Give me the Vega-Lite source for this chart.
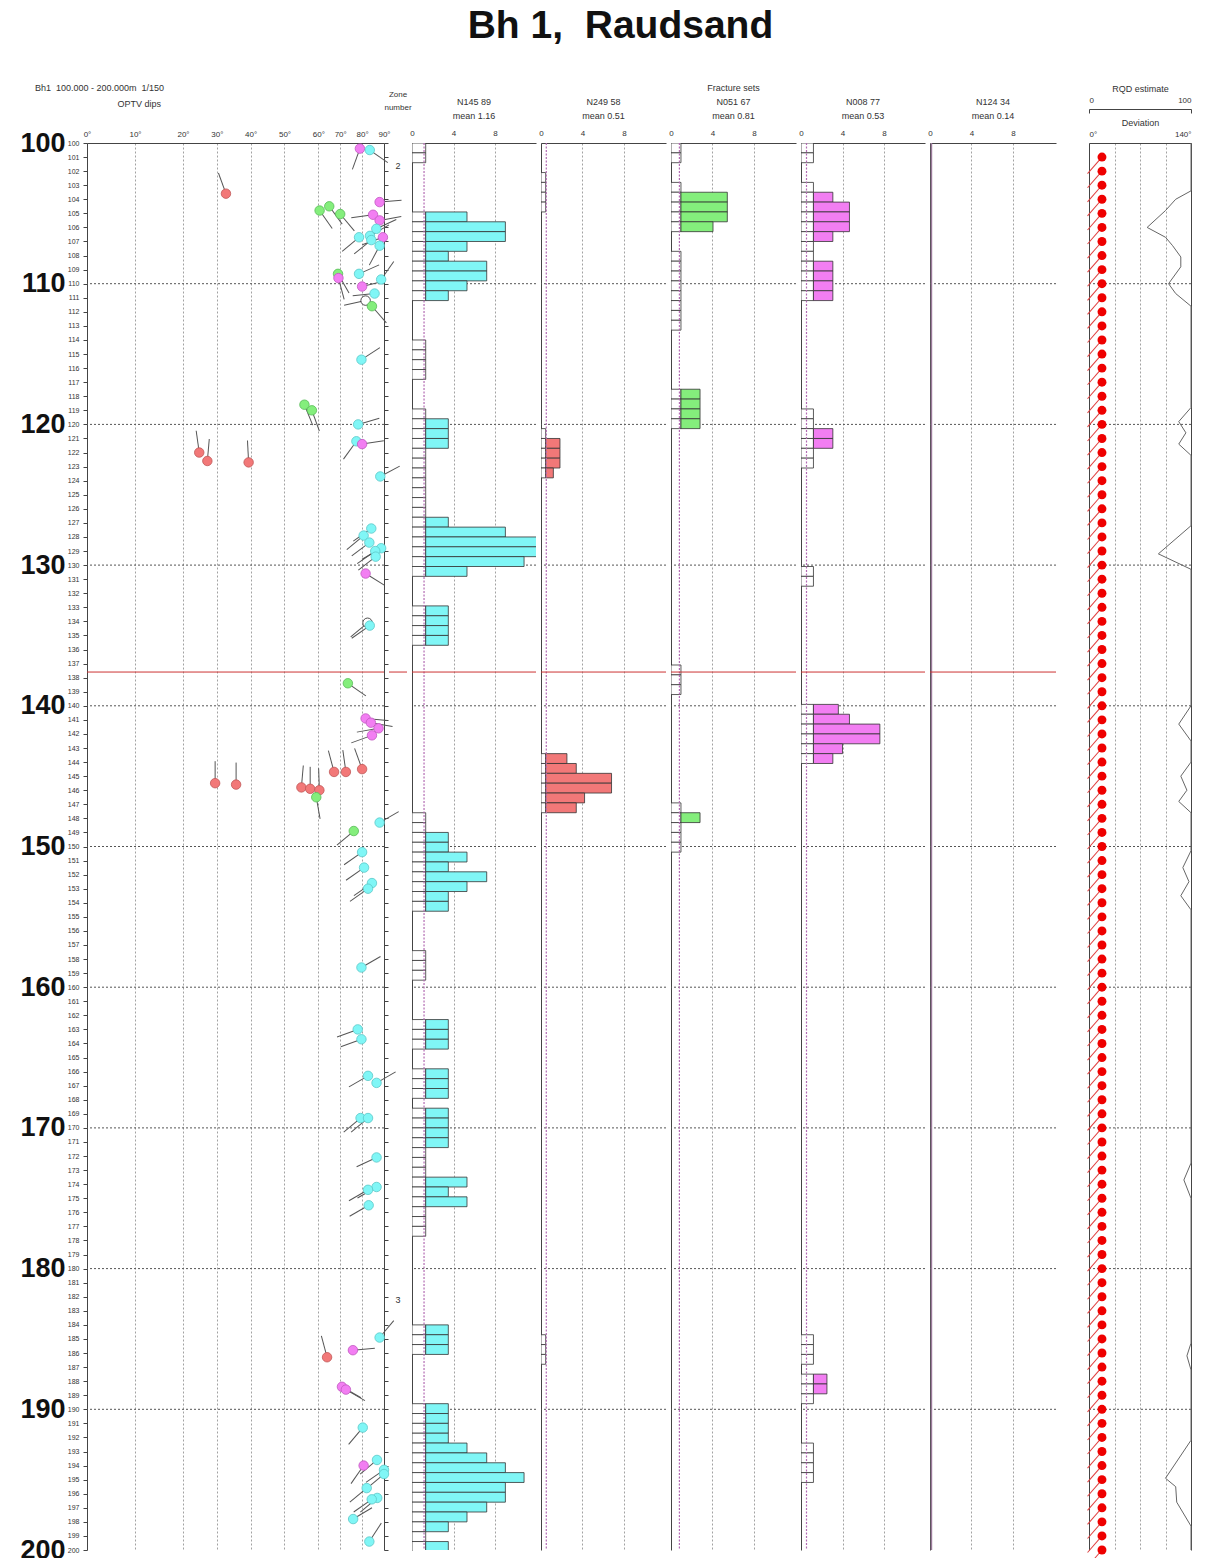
{
"$schema":"https://vega.github.io/schema/vega-lite/v6.json",
"background":"white",
"padding":{"left":19,"top":6,"right":5,"bottom":0},
"title":{"text":"Bh 1,\u00a0 Raudsand","fontSize":39,"font":"Liberation Sans, Arial, sans-serif","fontWeight":"bold","color":"#111","anchor":"middle","dx":14,"offset":38.5},
"spacing":5,
"bounds":"flush",
"datasets":{
"decades":[{"d":110},{"d":120},{"d":130},{"d":140},{"d":150},{"d":160},{"d":170},{"d":180},{"d":190}],
"marker":[{"d":137.6}],
"zones":[{"d":101.6,"z":"2"},{"d":182.2,"z":"3"}],
"means":[{"s":"N145","m":1.16},{"s":"N249","m":0.51},{"s":"N051","m":0.81},{"s":"N008","m":0.53},{"s":"N124","m":0.14}],
"dips":[
{"d":100.4,"dip":79,"az":200,"s":"N008"},{"d":100.5,"dip":83.5,"az":125,"s":"N145"},{"d":103.6,"dip":32.7,"az":340,"s":"N249"},
{"d":104.2,"dip":88,"az":85,"s":"N008"},{"d":104.5,"dip":65,"az":144,"s":"N051"},{"d":104.8,"dip":60.6,"az":145,"s":"N051"},
{"d":105.05,"dip":70,"az":140,"s":"N051"},{"d":105.1,"dip":85,"az":262,"s":"N008"},{"d":105.5,"dip":88,"az":80,"s":"N008"},
{"d":106.1,"dip":86.5,"az":65,"s":"N145"},{"d":106.6,"dip":83.6,"az":60,"s":"N145"},{"d":106.7,"dip":78.6,"az":230,"s":"N145"},
{"d":106.7,"dip":89.5,"az":250,"s":"N008"},{"d":106.9,"dip":84.2,"az":231,"s":"N145"},{"d":107.3,"dip":88,"az":208,"s":"N145"},
{"d":109.3,"dip":69,"az":150,"s":"N051"},{"d":109.3,"dip":78.6,"az":66,"s":"N145"},{"d":109.6,"dip":69.2,"az":165,"s":"N008"},
{"d":109.7,"dip":88.7,"az":35,"s":"N145"},{"d":110.2,"dip":80,"az":76,"s":"N008"},{"d":110.7,"dip":85.7,"az":264,"s":"N145"},
{"d":111.2,"dip":81.6,"az":258,"s":"X"},{"d":111.6,"dip":84.5,"az":139,"s":"N051"},{"d":115.4,"dip":79.7,"az":57,"s":"N145"},
{"d":118.6,"dip":55.9,"az":158,"s":"N051"},{"d":119.0,"dip":58.1,"az":160,"s":"N051"},{"d":120.0,"dip":78.2,"az":74,"s":"N145"},
{"d":121.2,"dip":77.4,"az":216,"s":"N145"},{"d":121.4,"dip":80,"az":81,"s":"N008"},{"d":122.0,"dip":24.8,"az":352,"s":"N249"},
{"d":122.6,"dip":27.2,"az":5,"s":"N249"},{"d":122.7,"dip":39.4,"az":357,"s":"N249"},{"d":123.7,"dip":88.3,"az":62,"s":"N145"},
{"d":127.4,"dip":84.2,"az":235,"s":"N145"},{"d":127.9,"dip":80.7,"az":230,"s":"N145"},{"d":128.4,"dip":83.3,"az":233,"s":"N145"},
{"d":128.8,"dip":88.7,"az":240,"s":"N145"},{"d":129.0,"dip":86.0,"az":235,"s":"N145"},{"d":129.4,"dip":86.2,"az":232,"s":"N145"},
{"d":130.6,"dip":81.6,"az":122,"s":"N008"},{"d":134.1,"dip":82.5,"az":230,"s":"X"},{"d":134.3,"dip":83.5,"az":235,"s":"N145"},
{"d":138.4,"dip":73.5,"az":125,"s":"N051"},{"d":140.9,"dip":81.6,"az":95,"s":"N008"},{"d":141.2,"dip":84,"az":100,"s":"N008"},
{"d":141.6,"dip":87.5,"az":260,"s":"N008"},{"d":142.1,"dip":84.5,"az":250,"s":"N008"},{"d":144.5,"dip":80,"az":340,"s":"N249"},
{"d":144.7,"dip":67.2,"az":345,"s":"N249"},{"d":144.7,"dip":72.6,"az":352,"s":"N249"},{"d":145.5,"dip":29.5,"az":0,"s":"N249"},
{"d":145.6,"dip":35.7,"az":0,"s":"N249"},{"d":145.8,"dip":55,"az":5,"s":"N249"},{"d":145.9,"dip":57.6,"az":0,"s":"N249"},
{"d":146.0,"dip":60.5,"az":358,"s":"N249"},{"d":146.5,"dip":59.4,"az":170,"s":"N051"},{"d":148.3,"dip":88,"az":60,"s":"N145"},
{"d":148.9,"dip":76.2,"az":230,"s":"N051"},{"d":150.4,"dip":80,"az":235,"s":"N145"},{"d":151.5,"dip":80.9,"az":235,"s":"N145"},
{"d":152.6,"dip":84.5,"az":235,"s":"N145"},{"d":153.0,"dip":82.7,"az":235,"s":"N145"},{"d":158.6,"dip":79.7,"az":60,"s":"N145"},
{"d":163.0,"dip":78,"az":250,"s":"N145"},{"d":163.7,"dip":79.7,"az":250,"s":"N145"},{"d":166.3,"dip":82.7,"az":240,"s":"N145"},
{"d":166.8,"dip":86.6,"az":60,"s":"N145"},{"d":169.3,"dip":79.3,"az":230,"s":"N145"},{"d":169.3,"dip":82.7,"az":230,"s":"N145"},
{"d":172.1,"dip":86.6,"az":245,"s":"N145"},{"d":174.2,"dip":86.6,"az":240,"s":"N145"},{"d":174.4,"dip":82.7,"az":240,"s":"N145"},
{"d":175.5,"dip":83,"az":240,"s":"N145"},{"d":184.9,"dip":88,"az":40,"s":"N145"},{"d":185.8,"dip":75.8,"az":85,"s":"N008"},
{"d":186.3,"dip":64,"az":345,"s":"N249"},{"d":188.4,"dip":70.8,"az":120,"s":"N008"},{"d":188.6,"dip":72.6,"az":120,"s":"N008"},
{"d":191.3,"dip":80.3,"az":220,"s":"N145"},{"d":193.6,"dip":86.8,"az":230,"s":"N145"},{"d":194.0,"dip":80.7,"az":215,"s":"N008"},
{"d":194.3,"dip":90,"az":235,"s":"N145"},{"d":194.6,"dip":90,"az":230,"s":"N145"},{"d":195.6,"dip":82.1,"az":230,"s":"N145"},
{"d":196.3,"dip":86.9,"az":230,"s":"N145"},{"d":196.4,"dip":84.4,"az":235,"s":"N145"},{"d":197.8,"dip":75.9,"az":59,"s":"N145"},
{"d":199.4,"dip":83.3,"az":33,"s":"N145"}
],
"hist":[
{"s":"N145","top":100.0,"bot":100.7,"b":1.32,"n":null},{"s":"N145","top":100.7,"bot":101.4,"b":1.32,"n":null},
{"s":"N145","top":104.9,"bot":105.6,"b":1.32,"n":5.3},{"s":"N145","top":105.6,"bot":106.3,"b":1.32,"n":9.0},
{"s":"N145","top":106.3,"bot":107.0,"b":1.32,"n":9.0},{"s":"N145","top":107.0,"bot":107.7,"b":1.32,"n":5.3},
{"s":"N145","top":107.7,"bot":108.4,"b":1.32,"n":3.5},{"s":"N145","top":108.4,"bot":109.1,"b":1.32,"n":7.2},
{"s":"N145","top":109.1,"bot":109.8,"b":1.32,"n":7.2},{"s":"N145","top":109.8,"bot":110.5,"b":1.32,"n":5.3},
{"s":"N145","top":110.5,"bot":111.2,"b":1.32,"n":3.5},
{"s":"N145","top":114.0,"bot":114.7,"b":1.32,"n":null},{"s":"N145","top":114.7,"bot":115.4,"b":1.32,"n":null},
{"s":"N145","top":115.4,"bot":116.1,"b":1.32,"n":null},{"s":"N145","top":116.1,"bot":116.8,"b":1.32,"n":null},
{"s":"N145","top":118.9,"bot":119.6,"b":1.32,"n":null},{"s":"N145","top":119.6,"bot":120.3,"b":1.32,"n":3.5},
{"s":"N145","top":120.3,"bot":121.0,"b":1.32,"n":3.5},{"s":"N145","top":121.0,"bot":121.7,"b":1.32,"n":3.5},
{"s":"N145","top":121.7,"bot":122.4,"b":1.32,"n":null},{"s":"N145","top":122.4,"bot":123.1,"b":1.32,"n":null},
{"s":"N145","top":123.1,"bot":123.8,"b":1.32,"n":null},{"s":"N145","top":123.8,"bot":124.5,"b":1.32,"n":null},
{"s":"N145","top":124.5,"bot":125.2,"b":1.32,"n":null},{"s":"N145","top":125.2,"bot":125.9,"b":1.32,"n":null},
{"s":"N145","top":125.9,"bot":126.6,"b":1.32,"n":null},{"s":"N145","top":126.6,"bot":127.3,"b":1.32,"n":3.5},
{"s":"N145","top":127.3,"bot":128.0,"b":1.32,"n":9.0},{"s":"N145","top":128.0,"bot":128.7,"b":1.32,"n":12.6},
{"s":"N145","top":128.7,"bot":129.4,"b":1.32,"n":12.6},{"s":"N145","top":129.4,"bot":130.1,"b":1.32,"n":10.8},
{"s":"N145","top":130.1,"bot":130.8,"b":1.32,"n":5.3},
{"s":"N145","top":132.9,"bot":133.6,"b":1.32,"n":3.5},{"s":"N145","top":133.6,"bot":134.3,"b":1.32,"n":3.5},
{"s":"N145","top":134.3,"bot":135.0,"b":1.32,"n":3.5},{"s":"N145","top":135.0,"bot":135.7,"b":1.32,"n":3.5},
{"s":"N145","top":147.6,"bot":148.3,"b":1.32,"n":null},{"s":"N145","top":148.3,"bot":149.0,"b":1.32,"n":null},
{"s":"N145","top":149.0,"bot":149.7,"b":1.32,"n":3.5},{"s":"N145","top":149.7,"bot":150.4,"b":1.32,"n":3.5},
{"s":"N145","top":150.4,"bot":151.1,"b":1.32,"n":5.3},{"s":"N145","top":151.1,"bot":151.8,"b":1.32,"n":3.5},
{"s":"N145","top":151.8,"bot":152.5,"b":1.32,"n":7.2},{"s":"N145","top":152.5,"bot":153.2,"b":1.32,"n":5.3},
{"s":"N145","top":153.2,"bot":153.9,"b":1.32,"n":3.5},{"s":"N145","top":153.9,"bot":154.6,"b":1.32,"n":3.5},
{"s":"N145","top":157.4,"bot":158.1,"b":1.32,"n":null},{"s":"N145","top":158.1,"bot":158.8,"b":1.32,"n":null},
{"s":"N145","top":158.8,"bot":159.5,"b":1.32,"n":null},
{"s":"N145","top":162.3,"bot":163.0,"b":1.32,"n":3.5},{"s":"N145","top":163.0,"bot":163.7,"b":1.32,"n":3.5},
{"s":"N145","top":163.7,"bot":164.4,"b":1.32,"n":3.5},
{"s":"N145","top":165.8,"bot":166.5,"b":1.32,"n":3.5},{"s":"N145","top":166.5,"bot":167.2,"b":1.32,"n":3.5},
{"s":"N145","top":167.2,"bot":167.9,"b":1.32,"n":3.5},
{"s":"N145","top":168.6,"bot":169.3,"b":1.32,"n":3.5},{"s":"N145","top":169.3,"bot":170.0,"b":1.32,"n":3.5},
{"s":"N145","top":170.0,"bot":170.7,"b":1.32,"n":3.5},{"s":"N145","top":170.7,"bot":171.4,"b":1.32,"n":3.5},
{"s":"N145","top":171.4,"bot":172.1,"b":1.32,"n":null},{"s":"N145","top":172.1,"bot":172.8,"b":1.32,"n":null},
{"s":"N145","top":172.8,"bot":173.5,"b":1.32,"n":null},{"s":"N145","top":173.5,"bot":174.2,"b":1.32,"n":5.3},
{"s":"N145","top":174.2,"bot":174.9,"b":1.32,"n":3.5},{"s":"N145","top":174.9,"bot":175.6,"b":1.32,"n":5.3},
{"s":"N145","top":175.6,"bot":176.3,"b":1.32,"n":null},{"s":"N145","top":176.3,"bot":177.0,"b":1.32,"n":null},
{"s":"N145","top":177.0,"bot":177.7,"b":1.32,"n":null},
{"s":"N145","top":184.0,"bot":184.7,"b":1.32,"n":3.5},{"s":"N145","top":184.7,"bot":185.4,"b":1.32,"n":3.5},
{"s":"N145","top":185.4,"bot":186.1,"b":1.32,"n":3.5},
{"s":"N145","top":189.6,"bot":190.3,"b":1.32,"n":3.5},{"s":"N145","top":190.3,"bot":191.0,"b":1.32,"n":3.5},
{"s":"N145","top":191.0,"bot":191.7,"b":1.32,"n":3.5},{"s":"N145","top":191.7,"bot":192.4,"b":1.32,"n":3.5},
{"s":"N145","top":192.4,"bot":193.1,"b":1.32,"n":5.3},{"s":"N145","top":193.1,"bot":193.8,"b":1.32,"n":7.2},
{"s":"N145","top":193.8,"bot":194.5,"b":1.32,"n":9.0},{"s":"N145","top":194.5,"bot":195.2,"b":1.32,"n":10.8},
{"s":"N145","top":195.2,"bot":195.9,"b":1.32,"n":9.0},{"s":"N145","top":195.9,"bot":196.6,"b":1.32,"n":9.0},
{"s":"N145","top":196.6,"bot":197.3,"b":1.32,"n":7.2},{"s":"N145","top":197.3,"bot":198.0,"b":1.32,"n":5.3},
{"s":"N145","top":198.0,"bot":198.7,"b":1.32,"n":3.5},{"s":"N145","top":198.7,"bot":199.4,"b":1.32,"n":null},
{"s":"N145","top":199.4,"bot":200.1,"b":1.32,"n":3.5},
{"s":"N249","top":102.1,"bot":102.8,"b":0.45,"n":null},{"s":"N249","top":102.8,"bot":103.5,"b":0.45,"n":null},
{"s":"N249","top":103.5,"bot":104.2,"b":0.45,"n":null},{"s":"N249","top":104.2,"bot":104.9,"b":0.45,"n":null},
{"s":"N249","top":120.3,"bot":121.0,"b":0.45,"n":null},{"s":"N249","top":121.0,"bot":121.7,"b":0.45,"n":1.83},
{"s":"N249","top":121.7,"bot":122.4,"b":0.45,"n":1.83},{"s":"N249","top":122.4,"bot":123.1,"b":0.45,"n":1.83},
{"s":"N249","top":123.1,"bot":123.8,"b":0.45,"n":1.19},
{"s":"N249","top":143.4,"bot":144.1,"b":0.45,"n":2.5},{"s":"N249","top":144.1,"bot":144.8,"b":0.45,"n":3.4},
{"s":"N249","top":144.8,"bot":145.5,"b":0.45,"n":6.8},{"s":"N249","top":145.5,"bot":146.2,"b":0.45,"n":6.8},
{"s":"N249","top":146.2,"bot":146.9,"b":0.45,"n":4.2},{"s":"N249","top":146.9,"bot":147.6,"b":0.45,"n":3.4},
{"s":"N249","top":184.7,"bot":185.4,"b":0.45,"n":null},{"s":"N249","top":185.4,"bot":186.1,"b":0.45,"n":null},
{"s":"N249","top":186.1,"bot":186.8,"b":0.45,"n":null},
{"s":"N051","top":100.0,"bot":100.7,"b":0.96,"n":null},{"s":"N051","top":100.7,"bot":101.4,"b":0.96,"n":null},
{"s":"N051","top":102.8,"bot":103.5,"b":0.96,"n":null},{"s":"N051","top":103.5,"bot":104.2,"b":0.96,"n":5.43},
{"s":"N051","top":104.2,"bot":104.9,"b":0.96,"n":5.43},{"s":"N051","top":104.9,"bot":105.6,"b":0.96,"n":5.43},
{"s":"N051","top":105.6,"bot":106.3,"b":0.96,"n":4.05},
{"s":"N051","top":107.7,"bot":108.4,"b":0.96,"n":null},{"s":"N051","top":108.4,"bot":109.1,"b":0.96,"n":null},
{"s":"N051","top":109.1,"bot":109.8,"b":0.96,"n":null},{"s":"N051","top":109.8,"bot":110.5,"b":0.96,"n":null},
{"s":"N051","top":110.5,"bot":111.2,"b":0.96,"n":null},{"s":"N051","top":111.2,"bot":111.9,"b":0.96,"n":null},
{"s":"N051","top":111.9,"bot":112.6,"b":0.96,"n":null},{"s":"N051","top":112.6,"bot":113.3,"b":0.96,"n":null},
{"s":"N051","top":117.5,"bot":118.2,"b":0.96,"n":2.8},{"s":"N051","top":118.2,"bot":118.9,"b":0.96,"n":2.8},
{"s":"N051","top":118.9,"bot":119.6,"b":0.96,"n":2.8},{"s":"N051","top":119.6,"bot":120.3,"b":0.96,"n":2.8},
{"s":"N051","top":137.1,"bot":137.8,"b":0.96,"n":null},{"s":"N051","top":137.8,"bot":138.5,"b":0.96,"n":null},
{"s":"N051","top":138.5,"bot":139.2,"b":0.96,"n":null},
{"s":"N051","top":146.9,"bot":147.6,"b":0.96,"n":null},{"s":"N051","top":147.6,"bot":148.3,"b":0.96,"n":2.8},
{"s":"N051","top":148.3,"bot":149.0,"b":0.96,"n":null},{"s":"N051","top":149.0,"bot":149.7,"b":0.96,"n":null},
{"s":"N051","top":149.7,"bot":150.4,"b":0.96,"n":null},
{"s":"N008","top":100.0,"bot":100.7,"b":1.2,"n":null},{"s":"N008","top":100.7,"bot":101.4,"b":1.2,"n":null},
{"s":"N008","top":102.8,"bot":103.5,"b":1.2,"n":null},{"s":"N008","top":103.5,"bot":104.2,"b":1.2,"n":3.07},
{"s":"N008","top":104.2,"bot":104.9,"b":1.2,"n":4.67},{"s":"N008","top":104.9,"bot":105.6,"b":1.2,"n":4.67},
{"s":"N008","top":105.6,"bot":106.3,"b":1.2,"n":4.67},{"s":"N008","top":106.3,"bot":107.0,"b":1.2,"n":3.07},
{"s":"N008","top":107.0,"bot":107.7,"b":1.2,"n":null},{"s":"N008","top":107.7,"bot":108.4,"b":1.2,"n":null},
{"s":"N008","top":108.4,"bot":109.1,"b":1.2,"n":3.07},{"s":"N008","top":109.1,"bot":109.8,"b":1.2,"n":3.07},
{"s":"N008","top":109.8,"bot":110.5,"b":1.2,"n":3.07},{"s":"N008","top":110.5,"bot":111.2,"b":1.2,"n":3.07},
{"s":"N008","top":118.9,"bot":119.6,"b":1.2,"n":null},{"s":"N008","top":119.6,"bot":120.3,"b":1.2,"n":null},
{"s":"N008","top":120.3,"bot":121.0,"b":1.2,"n":3.07},{"s":"N008","top":121.0,"bot":121.7,"b":1.2,"n":3.07},
{"s":"N008","top":121.7,"bot":122.4,"b":1.2,"n":null},{"s":"N008","top":122.4,"bot":123.1,"b":1.2,"n":null},
{"s":"N008","top":130.1,"bot":130.8,"b":1.2,"n":null},{"s":"N008","top":130.8,"bot":131.5,"b":1.2,"n":null},
{"s":"N008","top":139.9,"bot":140.6,"b":1.2,"n":3.6},{"s":"N008","top":140.6,"bot":141.3,"b":1.2,"n":4.67},
{"s":"N008","top":141.3,"bot":142.0,"b":1.2,"n":7.6},{"s":"N008","top":142.0,"bot":142.7,"b":1.2,"n":7.6},
{"s":"N008","top":142.7,"bot":143.4,"b":1.2,"n":4.0},{"s":"N008","top":143.4,"bot":144.1,"b":1.2,"n":3.07},
{"s":"N008","top":184.7,"bot":185.4,"b":1.2,"n":null},{"s":"N008","top":185.4,"bot":186.1,"b":1.2,"n":null},
{"s":"N008","top":186.1,"bot":186.8,"b":1.2,"n":null},
{"s":"N008","top":187.5,"bot":188.2,"b":1.2,"n":2.5},{"s":"N008","top":188.2,"bot":188.9,"b":1.2,"n":2.5},
{"s":"N008","top":188.9,"bot":189.6,"b":1.2,"n":null},
{"s":"N008","top":192.4,"bot":193.1,"b":1.2,"n":null},{"s":"N008","top":193.1,"bot":193.8,"b":1.2,"n":null},
{"s":"N008","top":193.8,"bot":194.5,"b":1.2,"n":null},{"s":"N008","top":194.5,"bot":195.2,"b":1.2,"n":null}
],
"rqd":[
{"d":100,"r":100},{"d":103.4,"r":100},{"d":104.0,"r":85},{"d":104.8,"r":75},{"d":106.0,"r":57},{"d":106.7,"r":75},{"d":107.3,"r":82},{"d":108.1,"r":90},{"d":108.8,"r":90},{"d":110,"r":78},{"d":110.7,"r":85},{"d":111.6,"r":100},
{"d":118.8,"r":100},{"d":119.8,"r":88},{"d":120.6,"r":95},{"d":121.4,"r":88},{"d":122.2,"r":100},
{"d":127.2,"r":100},{"d":129.2,"r":68},{"d":130.3,"r":100},
{"d":140,"r":100},{"d":141.3,"r":88},{"d":142.5,"r":100},{"d":144,"r":100},{"d":145,"r":90},{"d":146,"r":96},{"d":146.8,"r":88},{"d":147.6,"r":100},
{"d":150.3,"r":100},{"d":151.5,"r":92},{"d":152.5,"r":98},{"d":153.5,"r":90},{"d":154.5,"r":100},
{"d":172.5,"r":100},{"d":173.7,"r":93},{"d":175,"r":100},{"d":185.3,"r":100},{"d":186.2,"r":96},{"d":187.2,"r":100},
{"d":192.2,"r":100},{"d":194.9,"r":75},{"d":195.5,"r":85},{"d":196.6,"r":86},{"d":198.3,"r":100},{"d":200,"r":100}
],
"dev":[
{"d":101,"v":17.8,"az":221},{"d":102,"v":17.8,"az":221},{"d":103,"v":17.8,"az":221},{"d":104,"v":17.8,"az":221},{"d":105,"v":17.8,"az":221},
{"d":106,"v":17.8,"az":221},{"d":107,"v":17.8,"az":221},{"d":108,"v":17.8,"az":221},{"d":109,"v":17.8,"az":221},{"d":110,"v":17.8,"az":221},
{"d":111,"v":17.8,"az":221},{"d":112,"v":17.8,"az":221},{"d":113,"v":17.8,"az":221},{"d":114,"v":17.8,"az":221},{"d":115,"v":17.8,"az":221},
{"d":116,"v":17.8,"az":221},{"d":117,"v":17.8,"az":221},{"d":118,"v":17.8,"az":221},{"d":119,"v":17.8,"az":221},{"d":120,"v":17.8,"az":221},
{"d":121,"v":17.8,"az":221},{"d":122,"v":17.8,"az":221},{"d":123,"v":17.8,"az":221},{"d":124,"v":17.8,"az":221},{"d":125,"v":17.8,"az":221},
{"d":126,"v":17.8,"az":221},{"d":127,"v":17.8,"az":221},{"d":128,"v":17.8,"az":221},{"d":129,"v":17.8,"az":221},{"d":130,"v":17.8,"az":221},
{"d":131,"v":17.8,"az":221},{"d":132,"v":17.8,"az":221},{"d":133,"v":17.8,"az":221},{"d":134,"v":17.8,"az":221},{"d":135,"v":17.8,"az":221},
{"d":136,"v":17.8,"az":221},{"d":137,"v":17.8,"az":221},{"d":138,"v":17.8,"az":221},{"d":139,"v":17.8,"az":221},{"d":140,"v":17.8,"az":221},
{"d":141,"v":17.8,"az":221},{"d":142,"v":17.8,"az":221},{"d":143,"v":17.8,"az":221},{"d":144,"v":17.8,"az":221},{"d":145,"v":17.8,"az":221},
{"d":146,"v":17.8,"az":221},{"d":147,"v":17.8,"az":221},{"d":148,"v":17.8,"az":221},{"d":149,"v":17.8,"az":221},{"d":150,"v":17.8,"az":221},
{"d":151,"v":17.8,"az":221},{"d":152,"v":17.8,"az":221},{"d":153,"v":17.8,"az":221},{"d":154,"v":17.8,"az":221},{"d":155,"v":17.8,"az":221},
{"d":156,"v":17.8,"az":221},{"d":157,"v":17.8,"az":221},{"d":158,"v":17.8,"az":221},{"d":159,"v":17.8,"az":221},{"d":160,"v":17.8,"az":221},
{"d":161,"v":17.8,"az":221},{"d":162,"v":17.8,"az":221},{"d":163,"v":17.8,"az":221},{"d":164,"v":17.8,"az":221},{"d":165,"v":17.8,"az":221},
{"d":166,"v":17.8,"az":221},{"d":167,"v":17.8,"az":221},{"d":168,"v":17.8,"az":221},{"d":169,"v":17.8,"az":221},{"d":170,"v":17.8,"az":221},
{"d":171,"v":17.8,"az":221},{"d":172,"v":17.8,"az":221},{"d":173,"v":17.8,"az":221},{"d":174,"v":17.8,"az":221},{"d":175,"v":17.8,"az":221},
{"d":176,"v":17.8,"az":221},{"d":177,"v":17.8,"az":221},{"d":178,"v":17.8,"az":221},{"d":179,"v":17.8,"az":221},{"d":180,"v":17.8,"az":221},
{"d":181,"v":17.8,"az":221},{"d":182,"v":17.8,"az":221},{"d":183,"v":17.8,"az":221},{"d":184,"v":17.8,"az":221},{"d":185,"v":17.8,"az":221},
{"d":186,"v":17.8,"az":221},{"d":187,"v":17.8,"az":221},{"d":188,"v":17.8,"az":221},{"d":189,"v":17.8,"az":221},{"d":190,"v":17.8,"az":221},
{"d":191,"v":17.8,"az":221},{"d":192,"v":17.8,"az":221},{"d":193,"v":17.8,"az":221},{"d":194,"v":17.8,"az":221},{"d":195,"v":17.8,"az":221},
{"d":196,"v":17.8,"az":221},{"d":197,"v":17.8,"az":221},{"d":198,"v":17.8,"az":221},{"d":199,"v":17.8,"az":221},{"d":200,"v":17.8,"az":221}
]
},
"hconcat":[
{
"width":297,"height":1407,
"title":{"text":"Bh1\u00a0\u00a0100.000 - 200.000m\u00a0\u00a01/150","anchor":"start","frame":"group","dx":-52,"offset":6,"fontSize":9},
"layer":[
{"data":{"name":"decades"},"mark":{"type":"rule","color":"#555","strokeDash":[2,2]},
 "encoding":{"y":{"field":"d","type":"quantitative","scale":{"domain":[100,200],"reverse":true,"nice":false,"zero":false},
  "axis":{"orient":"right","values":[100,101,102,103,104,105,106,107,108,109,110,111,112,113,114,115,116,117,118,119,120,121,122,123,124,125,126,127,128,129,130,131,132,133,134,135,136,137,138,139,140,141,142,143,144,145,146,147,148,149,150,151,152,153,154,155,156,157,158,159,160,161,162,163,164,165,166,167,168,169,170,171,172,173,174,175,176,177,178,179,180,181,182,183,184,185,186,187,188,189,190,191,192,193,194,195,196,197,198,199,200],"labels":false,"tickSize":4,"domain":true,"title":null,"grid":false}}}},
{"data":{"name":"marker"},"mark":{"type":"rule","color":"#cc3333","strokeWidth":1},
 "encoding":{"y":{"field":"d","type":"quantitative","scale":{"domain":[100,200],"reverse":true,"nice":false,"zero":false},"axis":null}}},
{"data":{"name":"dips"},"mark":{"type":"point","shape":"M0,0L0,-2","filled":false,"stroke":"#555","strokeWidth":1,"size":484,"opacity":1},
 "encoding":{
  "x":{"field":"dip","type":"quantitative","scale":{"domain":[0,20,60,90],"range":[0,96,231.3,297],"nice":false,"zero":false},
   "axis":{"orient":"top","values":[0,10,20,30,40,50,60,70,80,90],"labelExpr":"datum.value + '°'","grid":true,"ticks":false,"domain":true,"labelPadding":5,"labelFlush":false,"labelOverlap":false,"title":"OPTV dips","titleAnchor":"start","titleAlign":"left","titleX":30,"titleY":-40,"titleBaseline":"middle"}},
  "y":{"field":"d","type":"quantitative","scale":{"domain":[100,200],"reverse":true,"nice":false,"zero":false},
   "axis":{"orient":"left","values":[100,101,102,103,104,105,106,107,108,109,110,111,112,113,114,115,116,117,118,119,120,121,122,123,124,125,126,127,128,129,130,131,132,133,134,135,136,137,138,139,140,141,142,143,144,145,146,147,148,149,150,151,152,153,154,155,156,157,158,159,160,161,162,163,164,165,166,167,168,169,170,171,172,173,174,175,176,177,178,179,180,181,182,183,184,185,186,187,188,189,190,191,192,193,194,195,196,197,198,199,200],"labelFontSize":7,"tickSize":4,"labelPadding":4,"labelOverlap":false,"domain":true,"title":null,"grid":false}},
  "angle":{"field":"az","type":"quantitative","scale":null}}},
{"data":{"name":"dips"},"mark":{"type":"point","shape":"circle","filled":true,"size":90,"opacity":1,"strokeWidth":0.8},
 "encoding":{
  "x":{"field":"dip","type":"quantitative","scale":{"domain":[0,20,60,90],"range":[0,96,231.3,297],"nice":false,"zero":false},"axis":null},
  "y":{"field":"d","type":"quantitative","scale":{"domain":[100,200],"reverse":true,"nice":false,"zero":false},
   "axis":{"orient":"left","values":[100,110,120,130,140,150,160,170,180,190,200],"labelFontSize":27,"labelFont":"Liberation Sans, Arial, sans-serif","labelFontWeight":"bold","labelColor":"#111","ticks":false,"domain":false,"labelPadding":22,"labelOverlap":false,"title":null,"grid":false}},
  "color":{"field":"s","type":"nominal","scale":{"domain":["N145","N249","N051","N008","X"],"range":["#80f6f6","#f27878","#84ee7c","#f27ef2","#ffffff"]},"legend":null},
  "stroke":{"field":"s","type":"nominal","scale":{"domain":["N145","N249","N051","N008","X"],"range":["#5cc8c8","#c05858","#58bb58","#c058c0","#222222"]},"legend":null}}}
],
"resolve":{"axis":{"x":"independent","y":"independent"}}
},
{
"width":18,"height":1407,
"title":{"text":["Zone","number"],"offset":31,"lineHeight":13,"fontSize":8},
"layer":[
{"data":{"name":"marker"},"mark":{"type":"rule","color":"#cc3333"},
 "encoding":{"y":{"field":"d","type":"quantitative","scale":{"domain":[100,200],"reverse":true,"nice":false,"zero":false},"axis":null}}},
{"data":{"name":"zones"},"mark":{"type":"text","fontSize":9,"font":"Liberation Sans Narrow, Arial Narrow, Liberation Sans, sans-serif","color":"#333"},
 "encoding":{"y":{"field":"d","type":"quantitative","scale":{"domain":[100,200],"reverse":true,"nice":false,"zero":false},"axis":null},"text":{"field":"z"}}}
]
},
{
"width":124,"height":1407,
"title":{"text":["N145 89","mean 1.16"],"offset":8,"lineHeight":14,"fontSize":9},
"layer":[
{"data":{"name":"decades"},"mark":{"type":"rule","color":"#555","strokeDash":[2,2]},
 "encoding":{"y":{"field":"d","type":"quantitative","scale":{"domain":[100,200],"reverse":true,"nice":false,"zero":false},"axis":{"orient":"left","labels":false,"ticks":false,"domain":true,"title":null,"grid":false}}}},
{"data":{"name":"hist"},"transform":[{"filter":"datum.s == 'N145'"}],"mark":{"type":"rect","fill":"#ffffff","stroke":"#333","strokeWidth":0.8,"clip":true},
 "encoding":{"x":{"field":"b","type":"quantitative","scale":{"domain":[0,11.95],"nice":false,"zero":false},"axis":{"orient":"top","values":[0,4,8],"grid":true,"ticks":false,"domain":true,"labelPadding":6,"labelFlush":false,"title":null}},
  "x2":{"datum":0},"y":{"field":"top","type":"quantitative","scale":{"domain":[100,200],"reverse":true,"nice":false,"zero":false},"axis":null},"y2":{"field":"bot"}}},
{"data":{"name":"hist"},"transform":[{"filter":"datum.s == 'N145' && datum.n != null"}],"mark":{"type":"rect","fill":"#80f6f6","stroke":"#333","strokeWidth":0.8,"clip":true},
 "encoding":{"x":{"field":"b","type":"quantitative","scale":{"domain":[0,11.95],"nice":false,"zero":false},"axis":null},"x2":{"field":"n"},
  "y":{"field":"top","type":"quantitative","scale":{"domain":[100,200],"reverse":true,"nice":false,"zero":false},"axis":null},"y2":{"field":"bot"}}},
{"data":{"name":"means"},"transform":[{"filter":"datum.s == 'N145'"}],"mark":{"type":"rule","color":"#b36bb3","strokeDash":[2,1.5],"strokeWidth":1.2},
 "encoding":{"x":{"field":"m","type":"quantitative","scale":{"domain":[0,11.95],"nice":false,"zero":false},"axis":null}}},
{"data":{"name":"marker"},"mark":{"type":"rule","color":"#cc3333"},
 "encoding":{"y":{"field":"d","type":"quantitative","scale":{"domain":[100,200],"reverse":true,"nice":false,"zero":false},"axis":null}}}
],
"resolve":{"axis":{"x":"independent","y":"independent"}}
},
{
"width":125,"height":1407,
"title":{"text":["N249 58","mean 0.51"],"offset":8,"lineHeight":14,"fontSize":9},
"layer":[
{"data":{"name":"decades"},"mark":{"type":"rule","color":"#555","strokeDash":[2,2]},
 "encoding":{"y":{"field":"d","type":"quantitative","scale":{"domain":[100,200],"reverse":true,"nice":false,"zero":false},"axis":{"orient":"left","labels":false,"ticks":false,"domain":true,"title":null,"grid":false}}}},
{"data":{"name":"hist"},"transform":[{"filter":"datum.s == 'N249'"}],"mark":{"type":"rect","fill":"#ffffff","stroke":"#333","strokeWidth":0.8,"clip":true},
 "encoding":{"x":{"field":"b","type":"quantitative","scale":{"domain":[0,12.05],"nice":false,"zero":false},"axis":{"orient":"top","values":[0,4,8],"grid":true,"ticks":false,"domain":true,"labelPadding":6,"labelFlush":false,"title":null}},
  "x2":{"datum":0},"y":{"field":"top","type":"quantitative","scale":{"domain":[100,200],"reverse":true,"nice":false,"zero":false},"axis":null},"y2":{"field":"bot"}}},
{"data":{"name":"hist"},"transform":[{"filter":"datum.s == 'N249' && datum.n != null"}],"mark":{"type":"rect","fill":"#f27878","stroke":"#333","strokeWidth":0.8,"clip":true},
 "encoding":{"x":{"field":"b","type":"quantitative","scale":{"domain":[0,12.05],"nice":false,"zero":false},"axis":null},"x2":{"field":"n"},
  "y":{"field":"top","type":"quantitative","scale":{"domain":[100,200],"reverse":true,"nice":false,"zero":false},"axis":null},"y2":{"field":"bot"}}},
{"data":{"name":"means"},"transform":[{"filter":"datum.s == 'N249'"}],"mark":{"type":"rule","color":"#b36bb3","strokeDash":[2,1.5],"strokeWidth":1.2},
 "encoding":{"x":{"field":"m","type":"quantitative","scale":{"domain":[0,12.05],"nice":false,"zero":false},"axis":null}}},
{"data":{"name":"marker"},"mark":{"type":"rule","color":"#cc3333"},
 "encoding":{"y":{"field":"d","type":"quantitative","scale":{"domain":[100,200],"reverse":true,"nice":false,"zero":false},"axis":null}}}
],
"resolve":{"axis":{"x":"independent","y":"independent"}}
},
{
"width":125,"height":1407,
"title":{"text":["Fracture sets","N051 67","mean 0.81"],"offset":8,"lineHeight":14,"fontSize":9},
"layer":[
{"data":{"name":"decades"},"mark":{"type":"rule","color":"#555","strokeDash":[2,2]},
 "encoding":{"y":{"field":"d","type":"quantitative","scale":{"domain":[100,200],"reverse":true,"nice":false,"zero":false},"axis":{"orient":"left","labels":false,"ticks":false,"domain":true,"title":null,"grid":false}}}},
{"data":{"name":"hist"},"transform":[{"filter":"datum.s == 'N051'"}],"mark":{"type":"rect","fill":"#ffffff","stroke":"#333","strokeWidth":0.8,"clip":true},
 "encoding":{"x":{"field":"b","type":"quantitative","scale":{"domain":[0,12.05],"nice":false,"zero":false},"axis":{"orient":"top","values":[0,4,8],"grid":true,"ticks":false,"domain":true,"labelPadding":6,"labelFlush":false,"title":null}},
  "x2":{"datum":0},"y":{"field":"top","type":"quantitative","scale":{"domain":[100,200],"reverse":true,"nice":false,"zero":false},"axis":null},"y2":{"field":"bot"}}},
{"data":{"name":"hist"},"transform":[{"filter":"datum.s == 'N051' && datum.n != null"}],"mark":{"type":"rect","fill":"#84ee7c","stroke":"#333","strokeWidth":0.8,"clip":true},
 "encoding":{"x":{"field":"b","type":"quantitative","scale":{"domain":[0,12.05],"nice":false,"zero":false},"axis":null},"x2":{"field":"n"},
  "y":{"field":"top","type":"quantitative","scale":{"domain":[100,200],"reverse":true,"nice":false,"zero":false},"axis":null},"y2":{"field":"bot"}}},
{"data":{"name":"means"},"transform":[{"filter":"datum.s == 'N051'"}],"mark":{"type":"rule","color":"#b36bb3","strokeDash":[2,1.5],"strokeWidth":1.2},
 "encoding":{"x":{"field":"m","type":"quantitative","scale":{"domain":[0,12.05],"nice":false,"zero":false},"axis":null}}},
{"data":{"name":"marker"},"mark":{"type":"rule","color":"#cc3333"},
 "encoding":{"y":{"field":"d","type":"quantitative","scale":{"domain":[100,200],"reverse":true,"nice":false,"zero":false},"axis":null}}}
],
"resolve":{"axis":{"x":"independent","y":"independent"}}
},
{
"width":124,"height":1407,
"title":{"text":["N008 77","mean 0.53"],"offset":8,"lineHeight":14,"fontSize":9},
"layer":[
{"data":{"name":"decades"},"mark":{"type":"rule","color":"#555","strokeDash":[2,2]},
 "encoding":{"y":{"field":"d","type":"quantitative","scale":{"domain":[100,200],"reverse":true,"nice":false,"zero":false},"axis":{"orient":"left","labels":false,"ticks":false,"domain":true,"title":null,"grid":false}}}},
{"data":{"name":"hist"},"transform":[{"filter":"datum.s == 'N008'"}],"mark":{"type":"rect","fill":"#ffffff","stroke":"#333","strokeWidth":0.8,"clip":true},
 "encoding":{"x":{"field":"b","type":"quantitative","scale":{"domain":[0,11.95],"nice":false,"zero":false},"axis":{"orient":"top","values":[0,4,8],"grid":true,"ticks":false,"domain":true,"labelPadding":6,"labelFlush":false,"title":null}},
  "x2":{"datum":0},"y":{"field":"top","type":"quantitative","scale":{"domain":[100,200],"reverse":true,"nice":false,"zero":false},"axis":null},"y2":{"field":"bot"}}},
{"data":{"name":"hist"},"transform":[{"filter":"datum.s == 'N008' && datum.n != null"}],"mark":{"type":"rect","fill":"#f27ef2","stroke":"#333","strokeWidth":0.8,"clip":true},
 "encoding":{"x":{"field":"b","type":"quantitative","scale":{"domain":[0,11.95],"nice":false,"zero":false},"axis":null},"x2":{"field":"n"},
  "y":{"field":"top","type":"quantitative","scale":{"domain":[100,200],"reverse":true,"nice":false,"zero":false},"axis":null},"y2":{"field":"bot"}}},
{"data":{"name":"means"},"transform":[{"filter":"datum.s == 'N008'"}],"mark":{"type":"rule","color":"#b36bb3","strokeDash":[2,1.5],"strokeWidth":1.2},
 "encoding":{"x":{"field":"m","type":"quantitative","scale":{"domain":[0,11.95],"nice":false,"zero":false},"axis":null}}},
{"data":{"name":"marker"},"mark":{"type":"rule","color":"#cc3333"},
 "encoding":{"y":{"field":"d","type":"quantitative","scale":{"domain":[100,200],"reverse":true,"nice":false,"zero":false},"axis":null}}}
],
"resolve":{"axis":{"x":"independent","y":"independent"}}
},
{
"width":126,"height":1407,
"title":{"text":["N124 34","mean 0.14"],"offset":8,"lineHeight":14,"fontSize":9},
"layer":[
{"data":{"name":"decades"},"mark":{"type":"rule","color":"#555","strokeDash":[2,2]},
 "encoding":{"y":{"field":"d","type":"quantitative","scale":{"domain":[100,200],"reverse":true,"nice":false,"zero":false},"axis":{"orient":"left","labels":false,"ticks":false,"domain":true,"title":null,"grid":false}}}},
{"data":{"name":"means"},"transform":[{"filter":"datum.s == 'N124'"}],"mark":{"type":"rule","color":"#9a7a9a","strokeWidth":1.5},
 "encoding":{"x":{"field":"m","type":"quantitative","scale":{"domain":[0,12.15],"nice":false,"zero":false},"axis":{"orient":"top","values":[0,4,8],"grid":true,"ticks":false,"domain":true,"labelPadding":6,"labelFlush":false,"title":null}}}},
{"data":{"name":"marker"},"mark":{"type":"rule","color":"#cc3333"},
 "encoding":{"y":{"field":"d","type":"quantitative","scale":{"domain":[100,200],"reverse":true,"nice":false,"zero":false},"axis":null}}}
],
"resolve":{"axis":{"x":"independent","y":"independent"}}
},
{
"width":23,"height":1407,
"data":{"name":"marker"},"mark":{"type":"rule","opacity":0},
"encoding":{"y":{"field":"d","type":"quantitative","scale":{"domain":[100,200],"reverse":true,"nice":false,"zero":false},"axis":null}}
},
{
"width":102,"height":1407,
"layer":[
{"data":{"name":"decades"},"mark":{"type":"rule","color":"#555","strokeDash":[2,2]},
 "encoding":{"y":{"field":"d","type":"quantitative","scale":{"domain":[100,200],"reverse":true,"nice":false,"zero":false},"axis":{"orient":"right","labels":false,"ticks":false,"domain":true,"title":null,"grid":false}}}},
{"data":{"name":"dev"},"mark":{"type":"point","shape":"M0,0L0,-2","filled":false,"stroke":"#e04040","strokeWidth":1,"size":484,"opacity":1},
 "encoding":{"x":{"field":"v","type":"quantitative","scale":{"domain":[0,140],"nice":false,"zero":false},
   "axis":{"orient":"top","values":[0,35,70,105,140],"labelExpr":"datum.value == 0 || datum.value == 140 ? datum.value + '°' : ''","grid":true,"ticks":false,"domain":true,"labelFlush":true,"labelPadding":5,"title":"Deviation","titlePadding":3}},
  "y":{"field":"d","type":"quantitative","scale":{"domain":[100,200],"reverse":true,"nice":false,"zero":false},"axis":{"orient":"left","labels":false,"ticks":false,"domain":true,"title":null,"grid":false}},
  "angle":{"field":"az","type":"quantitative","scale":null}}},
{"data":{"name":"dev"},"mark":{"type":"point","shape":"circle","filled":true,"size":80,"opacity":1,"color":"#ee0000"},
 "encoding":{"x":{"field":"v","type":"quantitative","scale":{"domain":[0,140],"nice":false,"zero":false},"axis":null},
  "y":{"field":"d","type":"quantitative","scale":{"domain":[100,200],"reverse":true,"nice":false,"zero":false},"axis":null}}},
{"data":{"name":"rqd"},"mark":{"type":"line","color":"#666","strokeWidth":1},
 "encoding":{"x":{"field":"r","type":"quantitative","scale":{"domain":[0,100],"nice":false,"zero":false},
   "axis":{"orient":"top","offset":34,"values":[0,100],"labelFlush":true,"ticks":true,"tickSize":-4,"domain":true,"grid":false,"labelPadding":9,"title":"RQD estimate","titlePadding":3}},
  "y":{"field":"d","type":"quantitative","scale":{"domain":[100,200],"reverse":true,"nice":false,"zero":false},"axis":null},
  "order":{"field":"d","type":"quantitative"}}}
],
"resolve":{"scale":{"x":"independent"},"axis":{"x":"independent","y":"independent"}}
}
],
"config":{
"view":{"stroke":null},
"axis":{"labelFont":"Liberation Sans Narrow, Arial Narrow, Liberation Sans, sans-serif","labelFontSize":8,"labelColor":"#333","domainColor":"#444","tickColor":"#444","titleFont":"Liberation Sans Narrow, Arial Narrow, Liberation Sans, sans-serif","titleFontSize":9,"titleFontWeight":"normal","titleColor":"#333","gridColor":"#8a8a8a","gridDash":[2,2],"gridWidth":0.8},
"title":{"font":"Liberation Sans Narrow, Arial Narrow, Liberation Sans, sans-serif","fontSize":9,"fontWeight":"normal","color":"#333"}
}
}
